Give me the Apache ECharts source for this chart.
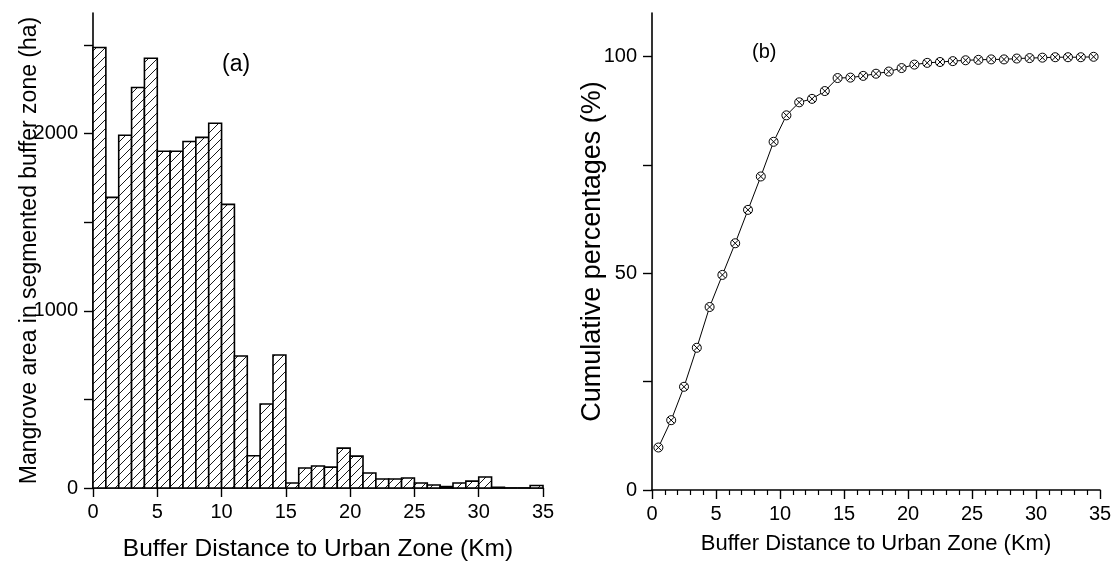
<!DOCTYPE html>
<html>
<head>
<meta charset="utf-8">
<script src="https://cdn.jsdelivr.net/npm/echarts@6/dist/echarts.min.js"></script>
<style>
  html, body { margin: 0; padding: 0; background: #fff; }
  #main { width: 1117px; height: 567px; }
</style>
</head>
<body>
<div id="main"></div>
<script>
// histogram bins (Km) and mangrove area per bin (ha)
var binStart = [0,1,2,3,4,5,6,7,8,9,10,11,12,13,14,15,16,17,18,19,20,21,22,23,24,25,26,27,28,29,30,31,32,33,34];
var binEnd   = [1,2,3,4,5,6,7,8,9,10,11,12,13,14,15,16,17,18,19,20,21,22,23,24,25,26,27,28,29,30,31,32,33,34,35];
var area = [2485,1640,1990,2260,2425,1900,1900,1955,1978,2058,1600,745,182,474,750,28,113,124,118,225,180,85,51,51,56,28,17,8,28,39,62,4,0,0,14];

// cumulative percentages at bin centres
var midKm = [0.5,1.5,2.5,3.5,4.5,5.5,6.5,7.5,8.5,9.5,10.5,11.5,12.5,13.5,14.5,15.5,16.5,17.5,18.5,19.5,20.5,21.5,22.5,23.5,24.5,25.5,26.5,27.5,28.5,29.5,30.5,31.5,32.5,33.5,34.5];
var cumPct = [9.8,16.1,23.8,32.8,42.2,49.6,56.9,64.6,72.3,80.3,86.4,89.4,90.2,92.0,95.0,95.1,95.5,96.0,96.5,97.3,98.1,98.5,98.7,98.9,99.1,99.2,99.3,99.3,99.5,99.6,99.7,99.8,99.8,99.8,99.9];

// tick marks / labels
var areaTicks = [0,500,1000,1500,2000,2500];
var areaLabels = [0,1000,2000];
var pctTicks = [0,25,50,75,100];
var pctLabels = [0,50,100];

var FONT = 'Liberation Sans, Arial, sans-serif';

// diagonal hatch pattern
var hatch = document.createElement('canvas');
hatch.width = 9; hatch.height = 9;
var hc = hatch.getContext('2d');
hc.fillStyle = '#fff';
hc.fillRect(0, 0, 9, 9);
hc.strokeStyle = '#000';
hc.lineWidth = 0.9;
hc.beginPath();
hc.moveTo(-1, 10); hc.lineTo(10, -1);
hc.moveTo(-1, 1); hc.lineTo(1, -1);
hc.moveTo(8, 10); hc.lineTo(10, 8);
hc.stroke();

var bars = area.map(function (v, i) { return [binStart[i], binEnd[i], v]; });
var line = midKm.map(function (x, i) { return [x, cumPct[i]]; });

function axisBase() {
  return {
    axisLine: { show: true, onZero: false, lineStyle: { color: '#000', width: 1.6 } },
    axisTick: { show: true, inside: false, length: 9, lineStyle: { color: '#000', width: 1.4 } },
    axisLabel: { color: '#000', fontSize: 20, fontFamily: FONT, formatter: function (v) { return String(v); } },
    splitLine: { show: false },
    nameTextStyle: { color: '#000', fontFamily: FONT },
    nameLocation: 'middle',
    nameMoveOverlap: false
  };
}

function merge(a, b) {
  for (var k in b) {
    if (a[k] && typeof a[k] === 'object' && !Array.isArray(a[k]) && typeof b[k] === 'object') merge(a[k], b[k]);
    else a[k] = b[k];
  }
  return a;
}

var chart = echarts.init(document.getElementById('main'), null, { renderer: 'canvas' });

var option = {
  animation: false,
  backgroundColor: '#fff',
  grid: [
    { left: 93, top: 13, width: 450, height: 476 },
    { left: 652, top: 13, width: 448, height: 477 }
  ],
  graphic: [
    { type: 'text', left: 222, top: 53, style: { text: '(a)', font: '23px ' + FONT, fill: '#000' } },
    { type: 'text', left: 752, top: 42, style: { text: '(b)', font: '20px ' + FONT, fill: '#000' } }
  ],
  xAxis: [
    merge(axisBase(), {
      type: 'value', gridIndex: 0, min: 0, max: 35, interval: 5,
      name: 'Buffer Distance to Urban Zone (Km)', nameGap: 49,
      nameTextStyle: { fontSize: 24.5 },
      axisLabel: { margin: 14 }
    }),
    merge(axisBase(), {
      type: 'value', gridIndex: 1, min: 0, max: 35, interval: 5,
      name: 'Buffer Distance to Urban Zone (Km)', nameGap: 43,
      nameTextStyle: { fontSize: 22 },
      axisLabel: { margin: 14 },
      minorTick: { show: true, splitNumber: 5, length: 5, lineStyle: { color: '#000', width: 1.2 } }
    })
  ],
  yAxis: [
    merge(axisBase(), {
      type: 'value', gridIndex: 0, min: 0, max: 2680,
      name: 'Mangrove area in segmented buffer zone (ha)', nameGap: 52,
      nameTextStyle: { fontSize: 23 },
      axisTick: { customValues: areaTicks },
      axisLabel: { customValues: areaLabels, margin: 15 }
    }),
    merge(axisBase(), {
      type: 'value', gridIndex: 1, min: 0, max: 110,
      name: 'Cumulative percentages (%)', nameGap: 46,
      nameTextStyle: { fontSize: 27 },
      axisTick: { customValues: pctTicks },
      axisLabel: { customValues: pctLabels, margin: 15 }
    })
  ],
  series: [
    {
      type: 'custom',
      xAxisIndex: 0, yAxisIndex: 0,
      data: bars,
      encode: { x: [0, 1], y: 2 },
      renderItem: function (params, api) {
        var p0 = api.coord([api.value(0), api.value(2)]);
        var p1 = api.coord([api.value(1), 0]);
        return {
          type: 'rect',
          shape: { x: p0[0], y: p0[1], width: p1[0] - p0[0], height: p1[1] - p0[1] },
          style: { fill: { image: hatch, repeat: 'repeat' }, stroke: '#000', lineWidth: 1.6 }
        };
      }
    },
    {
      type: 'line',
      xAxisIndex: 1, yAxisIndex: 1,
      data: line,
      symbol: 'path://M0,5 A5,5 0 1,1 10,5 A5,5 0 1,1 0,5 Z M1.46,1.46 L8.54,8.54 M8.54,1.46 L1.46,8.54',
      symbolSize: 9,
      itemStyle: { color: '#fff', borderColor: '#000', borderWidth: 1 },
      lineStyle: { color: '#000', width: 1 }
    }
  ]
};

chart.setOption(option);
</script>
</body>
</html>
